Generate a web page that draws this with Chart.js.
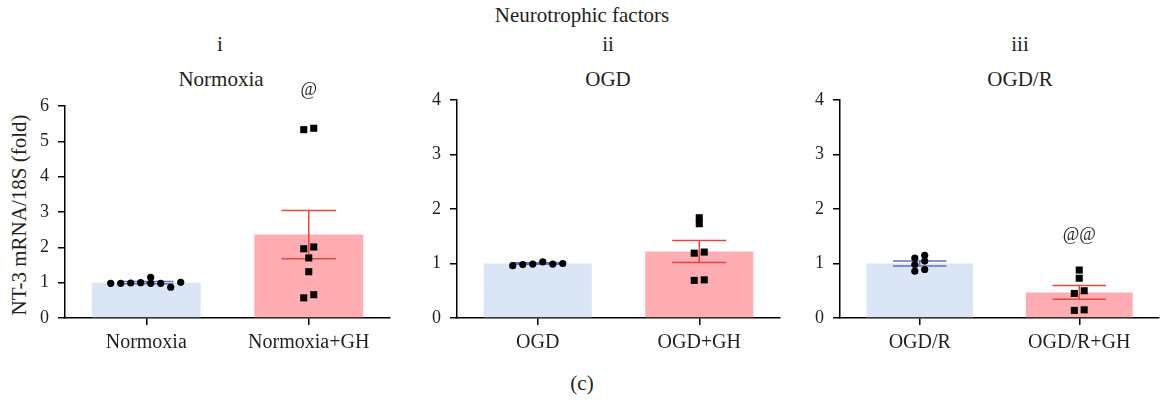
<!DOCTYPE html>
<html><head><meta charset="utf-8">
<script src="https://cdn.jsdelivr.net/npm/chart.js@4.4.1/dist/chart.umd.min.js"></script>
<style>
body{margin:0;width:1164px;height:400px;background:#fff;position:relative;overflow:hidden;font-family:"Liberation Serif","Times New Roman",serif;color:#231f20}
.t{position:absolute;transform:translate(-50%,-50%);white-space:nowrap;font-size:21px;line-height:1}
canvas{position:absolute;top:0}
</style></head><body>
<div class="t" style="left:582px;top:15px">Neurotrophic factors</div>
<div class="t" style="left:220px;top:44px">i</div>
<div class="t" style="left:608px;top:44px">ii</div>
<div class="t" style="left:1020px;top:44px">iii</div>
<div class="t" style="left:221px;top:79px">Normoxia</div>
<div class="t" style="left:608px;top:79px">OGD</div>
<div class="t" style="left:1020px;top:79px">OGD/R</div>
<div class="t" style="left:19px;top:215px;transform:translate(-50%,-50%) rotate(-90deg)">NT-3 mRNA/18S (fold)</div>
<div class="t" style="left:582px;top:383px">(c)</div>
<canvas id="c1" width="400" height="400" style="left:0px"></canvas>
<canvas id="c2" width="390" height="400" style="left:400px"></canvas>
<canvas id="c3" width="374" height="400" style="left:790px"></canvas>
<script>
// ---- data ----
const normoxiaLabels = ['Normoxia', 'Normoxia+GH'];
const normoxiaMeans = [1.0, 2.36];
const normoxiaSem = [0.03, 0.68];
const normoxiaCtrlPts = [1.0, 0.98, 0.99, 0.98, 1.15, 0.98, 0.87, 0.98, 1.01];
const normoxiaGHPts = [5.33, 5.37, 1.96, 2.01, 1.70, 1.31, 0.57, 0.66];
const normoxiaYMax = 6;
const normoxiaMarks = ['', '@'];
const normoxiaMarkVals = [null, 6.44];

const ogdLabels = ['OGD', 'OGD+GH'];
const ogdMeans = [1.0, 1.22];
const ogdSem = [0.012, 0.2];
const ogdCtrlPts = [0.99, 1.03, 0.98, 0.99, 0.96, 1.0];
const ogdGHPts = [1.84, 1.73, 1.19, 1.21, 0.69, 0.70];
const ogdYMax = 4;
const ogdMarks = ['', ''];
const ogdMarkVals = [null, null];

const ogdrLabels = ['OGD/R', 'OGD/R+GH'];
const ogdrMeans = [1.0, 0.47];
const ogdrSem = [0.045, 0.125];
const ogdrCtrlPts = [1.10, 1.15, 0.98, 1.045, 0.86, 0.89];
const ogdrGHPts = [0.88, 0.73, 0.45, 0.50, 0.14, 0.15];
const ogdrYMax = 4;
const ogdrMarks = ['', '@@'];
const ogdrMarkVals = [null, 1.52];

// ---- style ----
const FONT = '"Liberation Serif","Times New Roman",serif';
const TXT = '#231f20';
const barColors = ['#dae6f6', '#ffadb3'];
const errColors = ['#6670c2', '#e8463c'];

const errPlugin = {
  id: 'errs',
  afterDatasetDraw(chart, args, o) {
    if (args.index !== 0) return;
    const ctx = chart.ctx, y = chart.scales.y;
    chart.getDatasetMeta(0).data.forEach((bar, i) => {
      const m = o.means[i], e = o.sems[i];
      const hw = bar.width * 0.25;
      const yt = y.getPixelForValue(m + e), yb = y.getPixelForValue(m - e);
      ctx.save();
      ctx.strokeStyle = errColors[i];
      ctx.lineWidth = 1.5;
      ctx.beginPath();
      ctx.moveTo(bar.x - hw, yt); ctx.lineTo(bar.x + hw, yt);
      ctx.moveTo(bar.x - hw, yb); ctx.lineTo(bar.x + hw, yb);
      ctx.moveTo(bar.x, yt); ctx.lineTo(bar.x, yb);
      ctx.stroke();
      ctx.restore();
    });
  },
  afterDraw(chart, args, o) {
    const ctx = chart.ctx, y = chart.scales.y, x = chart.scales.x;
    ctx.save();
    ctx.font = '18px ' + FONT;
    ctx.fillStyle = TXT;
    ctx.textAlign = 'center';
    ctx.textBaseline = 'middle';
    o.marks.forEach((t, i) => {
      if (!t) return;
      ctx.fillText(t, x.getPixelForValue(i), y.getPixelForValue(o.markVals[i]));
    });
    ctx.restore();
  }
};

function swarm(vals, yPx, d, s) {
  const placed = [];
  vals.forEach(v => {
    const py = yPx(v);
    let k = 0, off = 0;
    while (true) {
      off = k === 0 ? 0 : (k % 2 === 1 ? 1 : -1) * Math.ceil(k / 2) * s;
      if (placed.every(p => Math.hypot(p.x - off, p.y - py) >= d)) break;
      k++;
    }
    placed.push({ x: off, y: py });
  });
  const idx = placed.map((p, i) => i).sort((a, b) => placed[a].y - placed[b].y);
  let cl = [idx[0]];
  const flush = () => {
    const m = cl.reduce((a, i) => a + placed[i].x, 0) / cl.length;
    cl.forEach(i => placed[i].x -= m);
  };
  for (let j = 1; j < idx.length; j++) {
    if (Math.abs(placed[idx[j]].y - placed[idx[j - 1]].y) < 6) cl.push(idx[j]);
    else { flush(); cl = [idx[j]]; }
  }
  flush();
  return placed.map(p => p.x);
}

function makePanel(id, labels, means, sems, ctrl, gh, yMax, marks, markVals, g) {
  const chart = new Chart(document.getElementById(id), {
    type: 'bar',
    data: {
      labels: labels,
      datasets: [
        { data: means, backgroundColor: barColors, barPercentage: 0.67, categoryPercentage: 1,
          grouped: false, order: 3 },
        { type: 'scatter', parsing: false, data: [], pointStyle: 'circle', pointRadius: 3.6,
          backgroundColor: '#000', borderWidth: 0, order: 2 },
        { type: 'scatter', parsing: false, data: [], pointStyle: 'rect', pointRadius: 5,
          backgroundColor: '#000', borderWidth: 0, order: 1 }
      ]
    },
    options: {
      responsive: false, animation: false,
      layout: { padding: { top: g.top, right: g.right, left: 0, bottom: 0 } },
      plugins: { legend: { display: false }, tooltip: { enabled: false },
        errs: { means: means, sems: sems, marks: marks, markVals: markVals } },
      scales: {
        x: {
          type: 'category', offset: true,
          afterFit: s => { s.height = 400 - 318; },
          grid: { display: true, drawOnChartArea: false, offset: false, tickLength: 7, color: '#000', lineWidth: 1.5 },
          border: { display: true, color: '#000', width: 1.5 },
          ticks: { color: TXT, font: { family: FONT, size: 20 }, padding: 6, maxRotation: 0 }
        },
        y: {
          min: 0, max: yMax,
          afterFit: s => { s.width = g.left; },
          grid: { display: true, drawOnChartArea: false, tickLength: 7, color: '#000', lineWidth: 1.5 },
          border: { display: true, color: '#000', width: 1.5 },
          ticks: { stepSize: 1, color: TXT, font: { family: FONT, size: 18 }, padding: 9 }
        }
      }
    },
    plugins: [errPlugin]
  });
  const y = chart.scales.y, x = chart.scales.x;
  const unit = x.getPixelForValue(1) - x.getPixelForValue(0);
  const yPx = v => y.getPixelForValue(v);
  const oc = swarm(ctrl, yPx, 5.5, 10), og = swarm(gh, yPx, 5.5, 10);
  chart.data.datasets[1].data = ctrl.map((v, j) => ({ x: 0 + oc[j] / unit, y: v }));
  chart.data.datasets[2].data = gh.map((v, j) => ({ x: 1 + og[j] / unit, y: v }));
  chart.update('none');
  return chart;
}

makePanel('c1', normoxiaLabels, normoxiaMeans, normoxiaSem, normoxiaCtrlPts, normoxiaGHPts,
  normoxiaYMax, normoxiaMarks, normoxiaMarkVals, { top: 106, right: 10, left: 65 });
makePanel('c2', ogdLabels, ogdMeans, ogdSem, ogdCtrlPts, ogdGHPts,
  ogdYMax, ogdMarks, ogdMarkVals, { top: 100, right: 10, left: 57 });
makePanel('c3', ogdrLabels, ogdrMeans, ogdrSem, ogdrCtrlPts, ogdrGHPts,
  ogdrYMax, ogdrMarks, ogdrMarkVals, { top: 100, right: 1, left: 50 });
</script>
</body></html>
